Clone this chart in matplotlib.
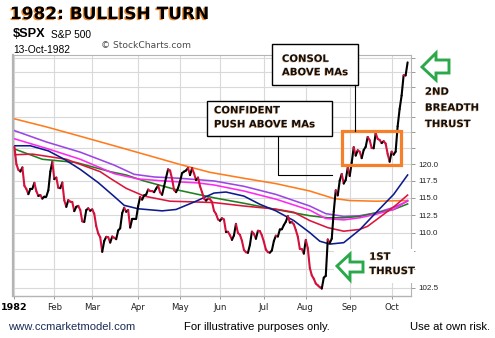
import matplotlib
matplotlib.use("Agg")
import matplotlib.pyplot as plt
import matplotlib.patheffects as pe
from matplotlib.collections import LineCollection
from matplotlib.patches import Rectangle, Polygon
from matplotlib.ticker import FixedLocator, FixedFormatter, NullLocator

# ---------------- data ----------------
# S&P 500 daily closes, 4-Jan-1982 .. 13-Oct-1982 (one entry per trading day)
jan = [122.74, 120.05, 119.18, 118.93, 119.55, 116.78, 116.30, 115.54, 116.33, 116.33,
       117.22, 115.97, 115.27, 115.41, 114.88, 115.19, 115.19, 116.10, 118.92, 120.40]
feb = [117.78, 118.01, 116.48, 116.42, 117.26, 114.63, 113.68, 114.66, 114.43, 114.38,
       113.06, 113.69, 113.82, 113.22, 111.59, 111.51, 113.21, 113.47, 113.11]
mar = [113.31, 112.68, 110.92, 109.88, 109.34, 107.34, 108.83, 109.41, 109.36, 108.61,
       109.45, 109.28, 109.08, 110.30, 110.61, 112.77, 113.55, 112.97, 113.21, 110.71,
       111.94, 111.96, 111.96]
apr = [113.79, 115.12, 114.73, 115.36, 115.46, 116.22, 116.00, 115.99, 115.83, 116.35,
       116.81, 115.80, 115.44, 116.70, 118.02, 119.26, 119.07, 117.80, 116.14, 115.83,
       116.44]
may = [117.46, 118.68, 118.91, 119.08, 119.47, 118.38, 119.42, 118.64, 117.62, 118.01,
       116.71, 115.84, 114.89, 114.59, 114.89, 114.79, 114.40, 113.11, 112.66, 111.88]
jun = [111.68, 112.04, 111.86, 110.09, 110.12, 109.63, 108.99, 109.61, 111.24, 109.96,
       109.69, 108.87, 107.60, 107.28, 107.20, 108.30, 110.14, 109.83, 109.14, 110.26,
       110.21, 109.61]
jul = [108.71, 107.65, 107.29, 107.22, 107.53, 108.83, 109.57, 109.45, 110.44, 110.47,
       111.07, 111.54, 112.34, 111.42, 111.48, 111.17, 110.36, 109.43, 107.74, 107.72,
       107.09]
aug = [108.98, 107.83, 105.16, 104.16, 103.71, 103.08, 102.84, 102.60, 102.42, 103.85,
       104.09, 109.04, 108.54, 109.16, 113.02, 116.11, 115.35, 117.58, 118.55, 117.11,
       117.66, 119.51]
sep = [118.25, 120.29, 122.68, 121.37, 122.19, 121.97, 120.97, 122.24, 122.73, 124.29,
       123.77, 122.55, 122.51, 124.88, 123.99, 123.81, 123.32, 123.62, 123.24, 121.63,
       120.42]
octo = [121.97, 121.51, 121.98, 125.97, 128.80, 131.05, 134.47, 134.44, 136.71]
closes = jan + feb + mar + apr + may + jun + jul + aug + sep + octo

# first trading day of each month (index into closes) and the axis labels
month_starts = [0, 20, 39, 62, 83, 103, 125, 146, 168, 189]
month_labels = ["1982", "Feb", "Mar", "Apr", "May", "Jun", "Jul", "Aug", "Sep", "Oct"]

# price axis
price_ticks = [102.5, 105.0, 107.5, 110.0, 112.5, 115.0, 117.5, 120.0, 122.5, 125.0,
               127.5, 130.0, 132.5, 135.0, 137.5]
shown_ticks = [102.5, 110.0, 112.5, 115.0, 117.5, 120.0]

# moving averages (trading-day index, level)
ma_orange_idx = [0, 16, 33, 50, 67, 83, 98, 115, 131, 148, 160, 168, 181, 197]
ma_orange_val = [127.2, 125.9, 124.4, 122.9, 121.4, 120.0, 118.8, 117.9, 117.1, 116.0,
                 114.9, 114.6, 114.5, 114.6]
ma_purple_idx = [0, 16, 33, 50, 60, 70, 83, 100, 115, 131, 148, 156, 165, 173, 181, 190, 197]
ma_purple_val = [125.3, 123.5, 121.9, 119.9, 118.5, 118.1, 117.9, 117.5, 116.7, 115.5,
                 113.8, 112.7, 112.3, 112.4, 112.8, 113.6, 114.5]
ma_magenta_idx = [0, 17, 33, 50, 62, 75, 92, 100, 115, 131, 148, 156, 165, 173, 181, 190, 197]
ma_magenta_val = [124.0, 122.4, 120.8, 118.6, 117.8, 117.5, 117.2, 116.9, 116.0, 114.8,
                  113.2, 112.0, 111.8, 112.1, 112.6, 113.3, 114.6]
ma_green_idx = [0, 14, 31, 48, 56, 65, 81, 100, 115, 131, 148, 157, 165, 173, 181, 190, 197]
ma_green_val = [122.4, 120.8, 120.3, 118.9, 118.4, 117.5, 116.2, 115.0, 114.2, 113.3,
                112.4, 112.1, 112.1, 112.3, 112.8, 113.3, 114.1]
ma_red_idx = [0, 9, 26, 43, 48, 56, 65, 78, 90, 100, 115, 131, 140, 148, 157, 165, 173,
              177, 185, 191, 197]
ma_red_val = [121.5, 121.6, 120.8, 118.9, 117.9, 116.4, 115.25, 114.5, 114.4, 114.3,
              113.8, 113.35, 112.9, 111.7, 110.7, 110.2, 110.45, 110.9, 112.6, 113.9, 115.4]
ma_navy_idx = [0, 8, 17, 25, 33, 42, 50, 55, 62, 74, 81, 91, 100, 106, 115, 123, 131, 140,
               148, 153, 158, 165, 173, 181, 190, 197]
ma_navy_val = [122.9, 122.9, 122.1, 120.8, 119.25, 117.25, 115.2, 113.9, 113.4, 113.1,
               113.3, 114.5, 115.7, 115.85, 115.25, 114.05, 113.1, 111.7, 110.0, 108.8,
               108.4, 108.6, 110.4, 112.8, 115.5, 118.4]

# ---------------- figure ----------------
W, H = 495, 338
fig = plt.figure(figsize=(W / 100, H / 100), dpi=100)
fig.patch.set_facecolor("white")

left, right, top, bottom = 13, 411, 55, 296
ax = fig.add_axes([left / W, (H - bottom) / H, (right - left) / W, (bottom - top) / H])
ax.set_yscale("log")
ax.set_xlim(-0.7, 198.7)
ax.set_ylim(101.45, 138.0)

grid_c = "#d9d9d9"
ax.yaxis.set_major_locator(FixedLocator(price_ticks))
ax.yaxis.set_major_formatter(FixedFormatter(
    [f"{t:.1f}" if t in shown_ticks else "" for t in price_ticks]))
ax.yaxis.set_minor_locator(NullLocator())
ax.yaxis.tick_right()
ax.xaxis.set_major_locator(FixedLocator(month_starts))
ax.xaxis.set_major_formatter(FixedFormatter(month_labels))
ax.xaxis.set_minor_locator(NullLocator())
ax.grid(True, color=grid_c, lw=0.8)
ax.set_axisbelow(True)
ax.tick_params(axis="y", which="major", length=3, width=0.7, color="#9a9a9a",
               labelsize=5.8, pad=2, labelcolor="#222222")
ax.tick_params(axis="x", which="major", length=2, width=0.7, color="#9a9a9a",
               labelsize=6.1, pad=3, labelcolor="#222222")
for lab in ax.get_yticklabels():
    lab.set_fontfamily("Liberation Sans")
xl = ax.get_xticklabels()
xl[0].set_fontweight("bold")
xl[0].set_fontsize(6.8)
xl[0].set_color("black")

for side, s in ax.spines.items():
    s.set_color("#b4b4b4")
    s.set_linewidth(0.8)
ax.spines["left"].set_linewidth(1.6)
ax.spines["bottom"].set_linewidth(1.0)

# moving averages
ma_lw = 1.15
ax.plot(ma_orange_idx, ma_orange_val, color="#ff7b1c", lw=ma_lw, zorder=2)
ax.plot(ma_purple_idx, ma_purple_val, color="#9b45e6", lw=ma_lw, zorder=2)
ax.plot(ma_green_idx, ma_green_val, color="#1f7f1f", lw=ma_lw, zorder=2)
ax.plot(ma_magenta_idx, ma_magenta_val, color="#ff28f0", lw=ma_lw, zorder=2)
ax.plot(ma_red_idx, ma_red_val, color="#dc143c", lw=ma_lw, zorder=2)
ax.plot(ma_navy_idx, ma_navy_val, color="#0c1a8c", lw=ma_lw, zorder=2)

# price line: black on up days, red on down days
segs, cols = [], []
for i in range(1, len(closes)):
    segs.append([(i - 1, closes[i - 1]), (i, closes[i])])
    cols.append("black" if closes[i] >= closes[i - 1] else "#d4103c")
ax.add_collection(LineCollection(segs, colors=cols, linewidths=1.5, zorder=3,
                                 capstyle="round", joinstyle="round"))

# ---------------- overlay in pixel units ----------------
ov = fig.add_axes([0, 0, 1, 1], zorder=5)
ov.set_xlim(0, W)
ov.set_ylim(H, 0)
ov.axis("off")
ov.patch.set_alpha(0)

title_fx = [pe.withSimplePatchShadow(offset=(-1.0, -0.8), shadow_rgbFace="#f08a2a", alpha=1.0)]
ov.text(10, 14, "1982: BULLISH TURN", fontsize=12.2, fontweight="bold",
        family="DejaVu Sans", va="center", ha="left", color="black", path_effects=title_fx)

ov.text(13, 34, "$SPX", fontsize=9.2, fontweight="bold", family="Liberation Sans",
        va="center", ha="left")
ov.text(51, 35, "S&P 500", fontsize=7.3, family="Liberation Sans", va="center", ha="left")
ov.text(13, 50, "13-Oct-1982", fontsize=7.4, family="Liberation Sans", va="center", ha="left")
ov.text(101, 45.5, "\u00a9 StockCharts.com", fontsize=6.6, family="DejaVu Sans",
        va="center", ha="left", color="#4a4a4a")

# footer
ov.text(8, 327, "www.ccmarketmodel.com", fontsize=8.1, family="Liberation Sans",
        va="center", ha="left", color="#1c2c55")
ov.text(184, 327, "For illustrative purposes only.", fontsize=8.1,
        family="Liberation Sans", va="center", ha="left", color="black")
ov.text(410, 327, "Use at own risk.", fontsize=8.1, family="Liberation Sans",
        va="center", ha="left", color="black")

ann_fx = [pe.withSimplePatchShadow(offset=(-0.5, -0.4), shadow_rgbFace="#e0914a", alpha=0.7)]
ann_kw = dict(fontsize=7.3, fontweight="bold", family="DejaVu Sans", va="center",
              ha="left", color="#111111", path_effects=ann_fx)

# white panel behind the lower arrow
ov.add_patch(Rectangle((334, 249), 80, 34, facecolor="white", edgecolor="none"))

# annotation boxes and leader lines
ov.add_patch(Rectangle((272, 44), 86, 41, facecolor="white", edgecolor="black", lw=1.0))
ov.text(282, 58.8, "CONSOL", **ann_kw)
ov.text(282, 72.2, "ABOVE MAs", **ann_kw)
ov.plot([355, 355], [85, 131], color="black", lw=0.8)

ov.add_patch(Rectangle((207, 100.7), 124.7, 35.3, facecolor="white",
                       edgecolor="black", lw=1.0))
ov.text(214, 110.3, "CONFIDENT", **ann_kw)
ov.text(214, 124.3, "PUSH ABOVE MAs", **ann_kw)
ov.plot([277.7, 277.7, 331.7], [136, 174.5, 174.5], color="black", lw=0.8)

# consolidation highlight
ov.add_patch(Rectangle((341.7, 130.7), 59, 34.3, facecolor="none",
                       edgecolor="#f5802a", lw=2.3))

# hollow arrows
green = "#2aa84a"
ov.add_patch(Polygon([(422, 67), (436, 53), (436, 60), (449, 60), (449, 73),
                      (436, 73), (436, 80)], closed=True, facecolor="white",
                     edgecolor=green, lw=2.1, joinstyle="miter"))
ov.add_patch(Polygon([(337, 266), (350, 254), (350, 262), (363, 262), (363, 272),
                      (350, 272), (350, 280)], closed=True, facecolor="white",
                     edgecolor=green, lw=2.1, joinstyle="miter"))

ov.text(425, 91.7, "2ND", **ann_kw)
ov.text(425, 107.7, "BREADTH", **ann_kw)
ov.text(425, 124, "THRUST", **ann_kw)
ov.text(369.3, 256.7, "1ST", **ann_kw)
ov.text(369.3, 271, "THRUST", **ann_kw)

fig.savefig("out.png", dpi=100, facecolor="white")
